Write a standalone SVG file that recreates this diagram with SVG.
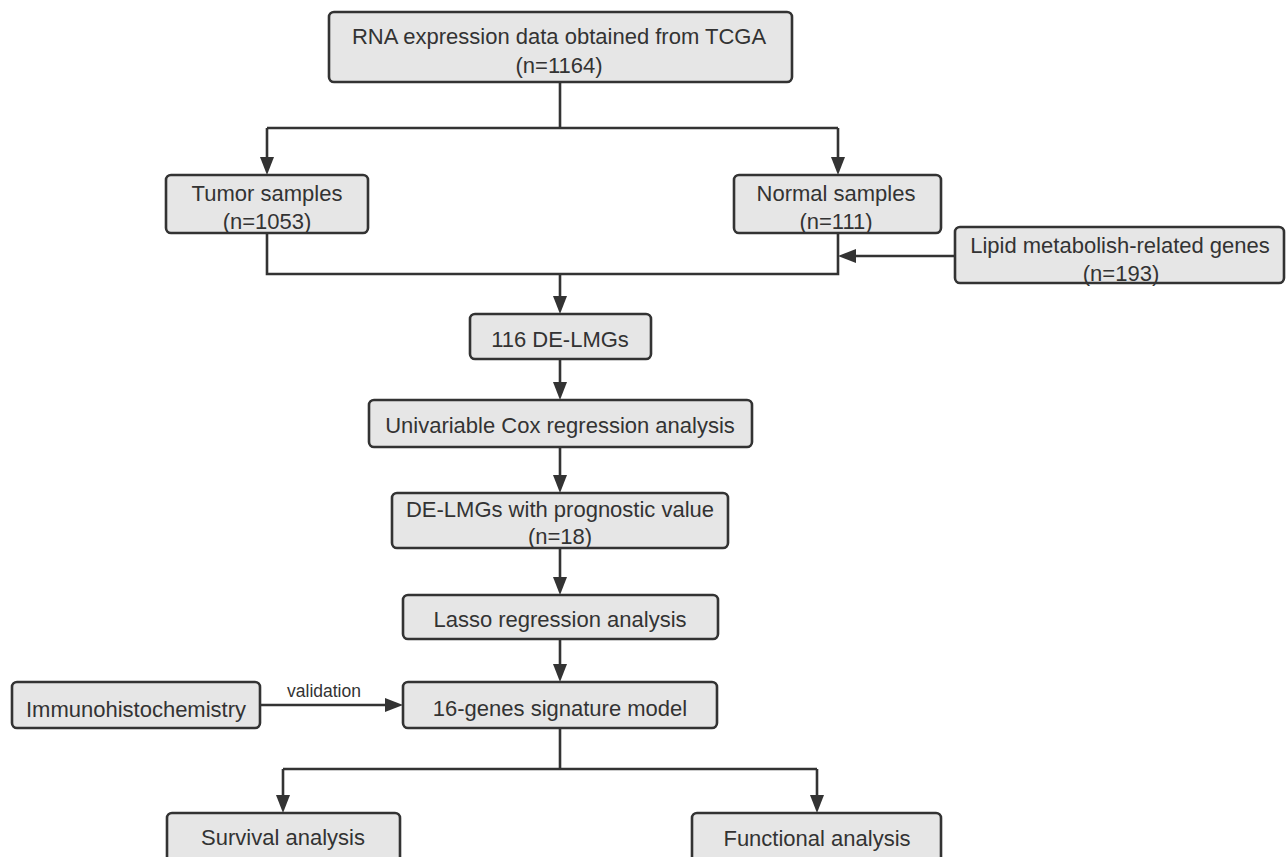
<svg xmlns="http://www.w3.org/2000/svg" width="1286" height="857" viewBox="0 0 1286 857">
<style>
.box{fill:#e6e6e6;stroke:#333333;stroke-width:2.6}
.t{font-family:"Liberation Sans",Arial,sans-serif;font-size:22px;fill:#333333;text-anchor:middle}
.lbl{font-family:"Liberation Sans",Arial,sans-serif;font-size:17.5px;fill:#333333;text-anchor:middle}
.c{fill:none;stroke:#333333;stroke-width:2.6}
</style>
<defs>
<marker id="arr" markerUnits="userSpaceOnUse" markerWidth="20" markerHeight="16" refX="10" refY="7" orient="auto" viewBox="0 0 20 16">
<path d="M0,0 L18,7 L0,14 z" fill="#333333"/>
</marker>
</defs>
<rect x="0" y="0" width="1286" height="857" fill="#ffffff"/>
<g id="connectors">
<path class="c" d="M560,82 V128"/>
<path class="c" d="M267,128 H838"/>
<path class="c" d="M267,128 V167" marker-end="url(#arr)"/>
<path class="c" d="M838,128 V167" marker-end="url(#arr)"/>
<path class="c" d="M267,233 V274 H838 V233"/>
<path class="c" d="M560,274 V306" marker-end="url(#arr)"/>
<path class="c" d="M955,256 H846" marker-end="url(#arr)"/>
<path class="c" d="M560,359 V392" marker-end="url(#arr)"/>
<path class="c" d="M560,447 V485" marker-end="url(#arr)"/>
<path class="c" d="M560,548 V587" marker-end="url(#arr)"/>
<path class="c" d="M560,639 V674" marker-end="url(#arr)"/>
<path class="c" d="M260,705 H395" marker-end="url(#arr)"/>
<text class="lbl" x="324" y="697">validation</text>
<path class="c" d="M560,728 V769"/>
<path class="c" d="M283,769 H817"/>
<path class="c" d="M283,769 V805" marker-end="url(#arr)"/>
<path class="c" d="M817,769 V805" marker-end="url(#arr)"/>
</g>
<g id="n-rna">
<rect class="box" x="329" y="12" width="463" height="70" rx="5"/>
<text class="t" x="559" y="44">RNA expression data obtained from TCGA</text>
<text class="t" x="559" y="73">(n=1164)</text>
</g>
<g id="n-tumor">
<rect class="box" x="166" y="175" width="202" height="58" rx="5"/>
<text class="t" x="267" y="201">Tumor samples</text>
<text class="t" x="267" y="229">(n=1053)</text>
</g>
<g id="n-normal">
<rect class="box" x="734" y="175" width="207" height="58" rx="5"/>
<text class="t" x="836" y="201">Normal samples</text>
<text class="t" x="836" y="229">(n=111)</text>
</g>
<g id="n-lipid">
<rect class="box" x="955" y="227" width="329" height="56" rx="5"/>
<text class="t" x="1120" y="253">Lipid metabolish-related genes</text>
<text class="t" x="1121" y="281">(n=193)</text>
</g>
<g id="n-delmg">
<rect class="box" x="470" y="314" width="181" height="45" rx="5"/>
<text class="t" x="560" y="347">116 DE-LMGs</text>
</g>
<g id="n-unicox">
<rect class="box" x="369" y="400" width="383" height="47" rx="5"/>
<text class="t" x="560" y="433">Univariable Cox regression analysis</text>
</g>
<g id="n-prog">
<rect class="box" x="392" y="493" width="336" height="55" rx="5"/>
<text class="t" x="560" y="517">DE-LMGs with prognostic value</text>
<text class="t" x="560" y="544">(n=18)</text>
</g>
<g id="n-lasso">
<rect class="box" x="403" y="595" width="315" height="44" rx="5"/>
<text class="t" x="560" y="627">Lasso regression analysis</text>
</g>
<g id="n-immuno">
<rect class="box" x="12" y="682" width="248" height="46" rx="5"/>
<text class="t" x="136" y="717">Immunohistochemistry</text>
</g>
<g id="n-model">
<rect class="box" x="403" y="682" width="314" height="46" rx="5"/>
<text class="t" x="560" y="716">16-genes signature model</text>
</g>
<g id="n-survival">
<rect class="box" x="167" y="813" width="233" height="50" rx="5"/>
<text class="t" x="283" y="845">Survival analysis</text>
</g>
<g id="n-functional">
<rect class="box" x="692" y="813" width="249" height="50" rx="5"/>
<text class="t" x="817" y="846">Functional analysis</text>
</g>
</svg>
